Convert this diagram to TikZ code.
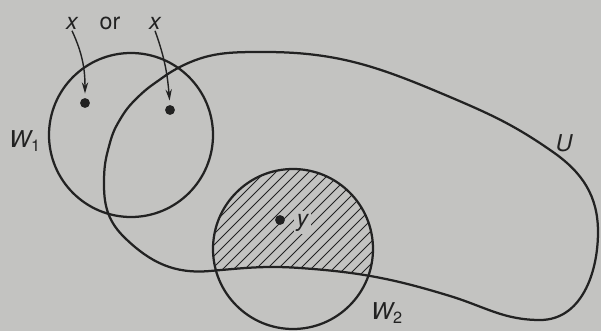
\documentclass[tikz,border=0pt]{standalone}
\usepackage{fontspec}
\setsansfont{TeX Gyre Heros}
\usetikzlibrary{positioning, arrows.meta}
\definecolor{paper}{HTML}{C3C3C1}
\definecolor{ink}{HTML}{222222}

\tikzset{
  curve/.style={draw=ink, line width=1.6pt},
  hatch/.style={draw=ink, line width=0.75pt},
  point/.style={circle, fill=ink, inner sep=0pt, minimum size=7pt},
  lbl/.style={font=\fontsize{16.5}{19}\selectfont\sffamily\itshape, text=ink, inner sep=1pt},
  pointer/.style={draw=ink, line width=1pt, -{Stealth[length=8pt, width=4.5pt]}}
}

\begin{document}
\begin{tikzpicture}[x=0.025cm, y=0.025cm]
  \useasboundingbox[fill=paper] (0,0) rectangle (601,331);

  % outline of U, kept for clipping and drawing
  \path[save path=\Uline] (178,263) to[out=28,in=180] (265,279)
    to[out=0,in=157] (450,234) to[out=-23,in=145] (553,179)
    to[out=-35,in=90] (598,99) to[out=-90,in=0] (540,11)
    to[out=180,in=-17] (450,35) to[out=163,in=-4] (300,63)
    to[out=176,in=5] (210,60) to[out=185,in=-44] (125,93)
    to[out=136,in=-90] (104,146) to[out=90,in=-105] (108,181)
    to[out=75,in=-120] (118,208) to[out=60,in=-135] (135,231)
    to[out=45,in=-145] (155,248) to[out=35,in=-152] (178,263) -- cycle;

  % hatched part of W2 inside U
  \begin{scope}
    \clip (293,82) circle[radius=80];
    \clip[use path=\Uline];
    \foreach \a in {0,11,...,440}
      \draw[hatch] (\a+20,-9) -- (\a+240,211);
  \end{scope}

  \draw[curve] (131,196) circle[radius=82];
  \draw[curve] (293,82) circle[radius=80];
  \draw[curve, use path=\Uline];

  % points
  \node[point] (xdot1) at (85,228) {};
  \node[point] (xdot2) at (170,221) {};
  \node[point] (ydot) at (280,111) {};

  % labels
  \node[lbl] (xlbl1) at (72,308) {x};
  \node[lbl, font=\fontsize{16.5}{19}\selectfont\sffamily] (orlbl) at (110,308) {or};
  \node[lbl] (xlbl2) at (155,308) {x};
  \node[lbl, fill=paper, inner sep=2pt, right=6pt of ydot, yshift=-2pt] (ylbl) {y};
  \node[lbl] (w1lbl) at (25,190) {W\textsubscript{\upshape 1}};
  \node[lbl] (w2lbl) at (387,18) {W\textsubscript{\upshape 2}};
  \node[lbl] (ulbl) at (564,188) {U};

  \draw[pointer, shorten >=3pt] (xlbl1.south) to[out=-65, in=90] (xdot1.north);
  \draw[pointer, shorten >=3pt] (xlbl2.south) to[out=-70, in=95] (xdot2.north);
\end{tikzpicture}
\end{document}
